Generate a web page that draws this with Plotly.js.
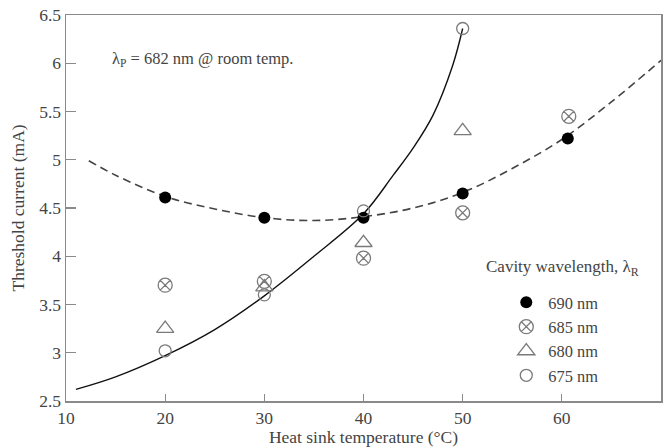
<!DOCTYPE html>
<html>
<head>
<meta charset="utf-8">
<script src="https://cdn.plot.ly/plotly-3.0.1.min.js"></script>
<style>html,body{margin:0;padding:0;background:#fff;}#chart{width:669px;height:447px;}</style>
</head>
<body>
<div id="chart"></div>
<script>
// Measured points
const temps690 = [20, 30, 40, 50, 60.6];
const ith690 = [4.61, 4.40, 4.40, 4.65, 5.22];
const temps685 = [20, 30, 40, 50, 60.7];
const ith685 = [3.70, 3.74, 3.98, 4.45, 5.45];
const temps680 = [20, 30, 40, 50];
const ith680 = [3.25, 3.68, 4.14, 5.30];
const temps675 = [20, 30, 40, 50];
const ith675 = [3.02, 3.60, 4.47, 6.36];

// Fitted curves
const solidX = [11, 15, 20, 25, 30, 35, 40, 43, 45, 47, 49, 50];
const solidY = [2.62, 2.75, 2.97, 3.24, 3.59, 4.0, 4.44, 4.84, 5.12, 5.46, 5.98, 6.36];
const dashX = [12.3, 15, 20, 25, 30, 35, 40, 45, 50, 55, 60, 65, 70];
const dashY = [4.99, 4.84, 4.62, 4.49, 4.40, 4.37, 4.41, 4.50, 4.66, 4.91, 5.21, 5.60, 6.03];

const legendNames = ['690 nm', '685 nm', '680 nm', '675 nm'];
const xTicks = [10, 20, 30, 40, 50, 60, 70];
const yTicks = [2.5, 3, 3.5, 4, 4.5, 5, 5.5, 6, 6.5];

const grey = '#7a7a7a';
const serif = '"Liberation Serif", "Times New Roman", serif';

const traces = [
  {x: solidX, y: solidY, mode: 'lines', line: {shape: 'spline', color: '#111', width: 1.4}, showlegend: false, hoverinfo: 'skip'},
  {x: dashX, y: dashY, mode: 'lines', line: {shape: 'spline', color: '#444', width: 1.6, dash: '8px,5px'}, showlegend: false, hoverinfo: 'skip'},
  {x: temps690, y: ith690, mode: 'markers', name: legendNames[0],
   marker: {symbol: 'circle', size: 12, color: '#000'}},
  {x: temps685, y: ith685, mode: 'markers', name: legendNames[1],
   marker: {symbol: 'circle-x-open', size: 14, color: grey, line: {width: 1.3}}},
  {x: temps680, y: ith680, mode: 'markers', name: legendNames[2],
   marker: {symbol: 'triangle-up-open', size: 15, color: grey, line: {width: 1.3}}},
  {x: temps675, y: ith675, mode: 'markers', name: legendNames[3],
   marker: {symbol: 'circle-open', size: 12, color: grey, line: {width: 1.3}}}
];

const axisCommon = {
  showgrid: false, zeroline: false, showline: true, linecolor: '#8a8a8a', linewidth: 1.5,
  mirror: true, ticks: 'inside', tickcolor: '#8a8a8a', tickwidth: 1.3,
  tickfont: {family: serif, size: 17.5, color: '#444'}
};

const layout = {
  width: 669, height: 447,
  margin: {l: 66, r: 8, t: 15, b: 46},
  paper_bgcolor: '#fff', plot_bgcolor: '#fff',
  xaxis: Object.assign({}, axisCommon, {
    range: [10, 70], tickvals: xTicks, ticktext: xTicks.map(String), ticklen: 7,
    title: {text: 'Heat sink temperature (°C)', font: {family: serif, size: 17.5, color: '#444'}, standoff: 3}
  }),
  yaxis: Object.assign({}, axisCommon, {
    range: [2.5, 6.5], tickvals: yTicks, ticktext: yTicks.map(String), ticklen: 10
  }),
  showlegend: true,
  legend: {x: 0.7366, y: 0.30, xanchor: 'left', yanchor: 'top', bgcolor: 'rgba(0,0,0,0)',
           font: {family: serif, size: 16.4, color: '#444'}, tracegroupgap: 0, itemwidth: 34, itemsizing: 'trace'},
  annotations: [
    {xref: 'paper', yref: 'paper', x: -0.0815, y: 0.5, xanchor: 'center', yanchor: 'middle', showarrow: false,
     textangle: -90, text: 'Threshold current (mA)', font: {family: serif, size: 17.5, color: '#444'}},
    {xref: 'paper', yref: 'paper', x: 0.074, y: 0.885, xanchor: 'left', yanchor: 'middle', showarrow: false,
     text: 'λ<sub>P</sub> = 682 nm @ room temp.', font: {family: serif, size: 16.5, color: '#444'}},
    {xref: 'paper', yref: 'paper', x: 0.7025, y: 0.345, xanchor: 'left', yanchor: 'middle', showarrow: false,
     text: 'Cavity wavelength, λ<sub>R</sub>', font: {family: serif, size: 17, color: '#444'}}
  ]
};

Plotly.newPlot('chart', traces, layout, {staticPlot: true, displayModeBar: false});
</script>
</body>
</html>
